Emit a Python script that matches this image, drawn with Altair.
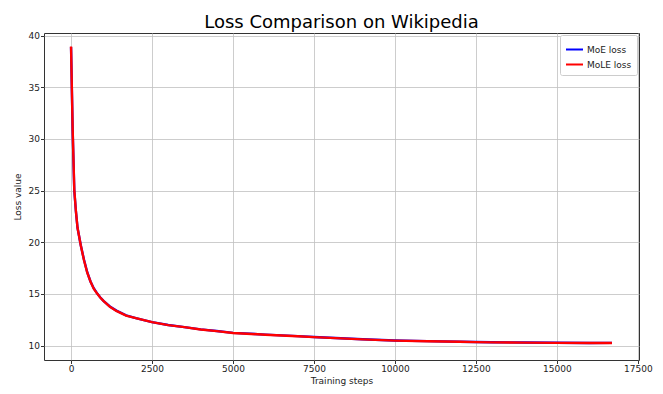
import altair as alt
import pandas as pd

steps = [0, 50, 100, 150, 200, 300, 400, 500, 600, 700, 800, 900, 1000, 1200, 1400, 1700,
         2000, 2500, 3000, 3500, 4000, 4500, 5000, 6000, 7000, 7500, 8000, 9000,
         10000, 11000, 12000, 12500, 13000, 14000, 15000, 16000, 16700]

moe_loss = [38.9, 30.8, 25.0, 23.0, 21.4, 19.7, 18.3, 17.1, 16.2, 15.55, 15.07, 14.67,
            14.33, 13.78, 13.38, 12.92, 12.66, 12.27, 11.99, 11.78, 11.56, 11.41, 11.23,
            11.06, 10.91, 10.82, 10.75, 10.61, 10.49, 10.43, 10.37, 10.34, 10.32, 10.29,
            10.27, 10.25, 10.26]

mole_loss = [38.95, 30.9, 25.1, 23.0, 21.4, 19.7, 18.25, 17.05, 16.2, 15.5, 15.05, 14.65,
             14.32, 13.75, 13.35, 12.9, 12.65, 12.26, 11.98, 11.78, 11.55, 11.4, 11.22,
             11.05, 10.9, 10.81, 10.74, 10.6, 10.48, 10.42, 10.36, 10.33, 10.31, 10.28,
             10.26, 10.24, 10.25]

series = ["MoE loss", "MoLE loss"]
colors = ["#0000ff", "#ff0000"]

df = pd.DataFrame({
    "step": steps + steps,
    "loss": moe_loss + mole_loss,
    "series": [series[0]] * len(steps) + [series[1]] * len(steps),
})

x_ticks = [0, 2500, 5000, 7500, 10000, 12500, 15000, 17500]
y_ticks = [10, 15, 20, 25, 30, 35, 40]

chart = alt.Chart(df).mark_line(strokeWidth=2.4, clip=True).encode(
    x=alt.X("step:Q", title="Training steps",
            scale=alt.Scale(domain=[-835, 17535], nice=False, zero=False),
            axis=alt.Axis(values=x_ticks, format="d", titlePadding=3)),
    y=alt.Y("loss:Q", title="Loss value",
            scale=alt.Scale(domain=[8.6, 40.25], nice=False, zero=False),
            axis=alt.Axis(values=y_ticks, format="d", titlePadding=6)),
    color=alt.Color("series:N", scale=alt.Scale(domain=series, range=colors),
                    legend=alt.Legend(title=None, orient="top-right", offset=2,
                                      symbolType="stroke", symbolSize=289,
                                      symbolStrokeWidth=2, labelFontSize=9,
                                      labelFont="DejaVu Sans", labelColor="#222",
                                      strokeColor="#cccccc", fillColor="white",
                                      padding=5, cornerRadius=2, labelOffset=3,
                                      rowPadding=-4)),
    order=alt.Order("series:N"),
).properties(
    width=595,
    height=327,
    title=alt.TitleParams("Loss Comparison on Wikipedia", fontSize=18,
                          font="DejaVu Sans", fontWeight="normal", color="black",
                          anchor="middle", baseline="alphabetic", offset=5, dy=19),
    autosize=alt.AutoSizeParams(type="none"),
    padding={"left": 36, "top": 25, "right": 16, "bottom": 26},
).configure(
    background="white"
).configure_view(
    stroke="#333333", strokeWidth=1
).configure_axis(
    labelFont="DejaVu Sans", titleFont="DejaVu Sans", labelFontSize=9,
    titleFontSize=9, titleFontWeight="normal", labelColor="#222", titleColor="#222",
    gridColor="#c0c0c0", gridWidth=0.8, tickColor="#333", tickSize=3.5,
    labelPadding=1, domain=False,
)

chart.save("out.html", embed_options={"renderer": "svg", "actions": False})
